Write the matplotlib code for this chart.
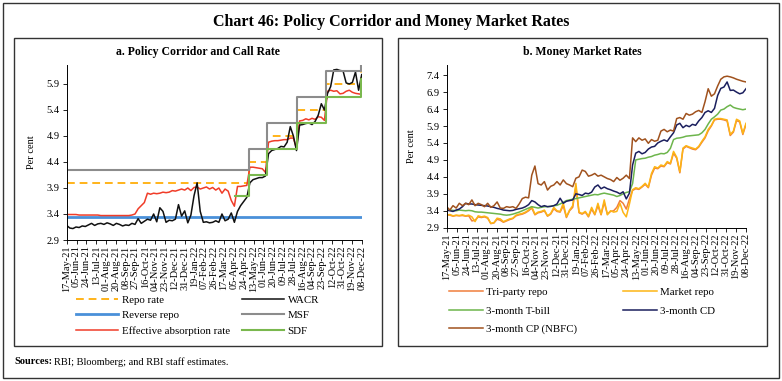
import numpy as np
import pandas as pd
import matplotlib
matplotlib.use('Agg')
import matplotlib.pyplot as plt
import matplotlib.dates as mdates
from matplotlib.patches import Rectangle

plt.rcParams['font.family'] = ['Liberation Serif', 'DejaVu Serif']

# ---------------- data ----------------
start, end = '2021-05-17', '2022-12-08'
# readings taken every 6 days from 17-May-21 to 08-Dec-22
obs_dates = pd.date_range(start, periods=96, freq='6D')
tick_dates = pd.date_range(start, end, freq='19D')

# policy corridor (change dates and levels)
repo_dates = ['2021-05-17', '2022-05-04', '2022-06-08', '2022-08-05', '2022-09-30', '2022-12-07', '2022-12-08']
repo_rate = [4.00, 4.40, 4.90, 5.40, 5.90, 6.25, 6.25]
msf_rate = [4.25, 4.65, 5.15, 5.65, 6.15, 6.50, 6.50]
sdf_dates = ['2022-04-08', '2022-05-04', '2022-06-08', '2022-08-05', '2022-09-30', '2022-12-07', '2022-12-08']
sdf_rate = [3.75, 4.15, 4.65, 5.15, 5.65, 6.00, 6.00]
rev_repo_dates = [start, end]
rev_repo_rate = [3.35, 3.35]

wacr = [3.18, 3.13, 3.12, 3.15, 3.14, 3.17, 3.16, 3.19, 3.22, 3.18, 3.21, 3.22, 3.20, 3.23, 3.21, 3.18,
        3.22, 3.20, 3.17, 3.19, 3.18, 3.22, 3.20, 3.31, 3.22, 3.26, 3.30, 3.28, 3.40, 3.25, 3.52, 3.45,
        3.24, 3.28, 3.27, 3.30, 3.58, 3.36, 3.46, 3.23, 3.38, 3.75, 4.00, 3.45, 3.24, 3.25, 3.23, 3.24,
        3.27, 3.24, 3.40, 3.27, 3.30, 3.42, 3.24, 3.45, 3.56, 3.64, 3.72, 4.00, 4.06, 4.08, 4.10, 4.10,
        4.13, 4.56, 4.62, 4.64, 4.66, 4.70, 4.69, 4.78, 5.08, 4.90, 4.62, 5.11, 5.12, 5.14, 5.15, 5.12,
        5.18, 5.30, 5.52, 5.40, 5.72, 5.85, 6.17, 6.18, 6.16, 6.15, 5.92, 5.90, 5.93, 6.13, 5.78, 6.08]
eff_absorption = [3.39, 3.39, 3.39, 3.39, 3.38, 3.38, 3.38, 3.38, 3.38, 3.38, 3.38, 3.37, 3.37, 3.37, 3.37, 3.37,
                  3.37, 3.37, 3.37, 3.37, 3.37, 3.38, 3.40, 3.50, 3.56, 3.62, 3.80, 3.78, 3.80, 3.79, 3.80, 3.82,
                  3.81, 3.82, 3.85, 3.84, 3.86, 3.88, 3.86, 3.90, 3.85, 3.91, 3.92, 3.88, 3.90, 3.92, 3.88, 3.91,
                  3.86, 3.90, 3.80, 3.88, 3.84, 3.66, 3.55, 3.93, 3.93, 3.94, 3.95, 4.30, 4.30, 4.29, 4.28, 4.27,
                  4.20, 4.78, 4.80, 4.81, 4.81, 4.82, 4.83, 4.83, 4.86, 4.86, 4.66, 5.19, 5.20, 5.23, 5.21, 5.24,
                  5.22, 5.27, 5.26, 5.20, 5.76, 5.78, 5.76, 5.77, 5.71, 5.72, 5.76, 5.78, 5.74, 5.72, 5.71, 5.70]

tri_party = [3.28, 3.27, 3.24, 3.26, 3.25, 3.26, 3.24, 3.25, 3.10, 3.12, 3.22, 3.20, 3.22, 3.18, 3.02, 3.04,
             3.15, 3.12, 3.06, 3.10, 3.14, 3.17, 3.25, 3.28, 3.30, 3.34, 3.40, 3.48, 3.28, 3.34, 3.36, 3.40,
             3.24, 3.30, 3.46, 3.38, 3.36, 3.55, 3.20, 3.40, 3.50, 4.10, 3.34, 3.30, 3.36, 3.22, 3.45, 3.28,
             3.55, 3.28, 3.65, 3.30, 3.38, 3.40, 3.50, 3.70, 3.62, 3.45, 3.75, 4.00, 4.05, 4.03, 4.10, 4.18,
             4.08, 4.45, 4.66, 4.64, 4.72, 4.70, 4.82, 4.78, 5.10, 4.95, 4.52, 5.22, 5.30, 5.26, 5.22, 5.20,
             5.28, 5.42, 5.55, 5.76, 5.90, 6.08, 6.10, 6.10, 6.08, 6.05, 5.62, 5.72, 6.06, 6.02, 5.65, 5.95]
market_repo = [3.27, 3.29, 3.25, 3.27, 3.26, 3.28, 3.25, 3.27, 3.22, 3.08, 3.25, 3.22, 3.24, 3.20, 3.03, 3.05,
               3.18, 3.16, 3.08, 3.12, 3.16, 3.18, 3.27, 3.30, 3.32, 3.36, 3.42, 3.52, 3.30, 3.36, 3.38, 3.42,
               3.25, 3.32, 3.50, 3.40, 3.38, 3.62, 3.22, 3.42, 3.55, 4.21, 3.36, 3.32, 3.38, 3.24, 3.50, 3.30,
               3.62, 3.30, 3.72, 3.28, 3.40, 3.36, 3.38, 3.62, 3.35, 3.22, 3.60, 4.02, 4.08, 4.05, 4.12, 4.21,
               4.10, 4.50, 4.70, 4.66, 4.75, 4.72, 4.85, 4.80, 5.15, 4.98, 4.55, 5.25, 5.32, 5.28, 5.25, 5.22,
               5.30, 5.45, 5.58, 5.80, 5.92, 6.10, 6.12, 6.12, 6.10, 6.08, 5.65, 5.75, 6.10, 6.05, 5.68, 5.98]
tbill_3m = [3.42, 3.42, 3.41, 3.40, 3.42, 3.41, 3.40, 3.41, 3.40, 3.37, 3.36, 3.36, 3.35, 3.34, 3.33, 3.32,
            3.31, 3.30, 3.28, 3.27, 3.28, 3.30, 3.33, 3.36, 3.40, 3.44, 3.48, 3.52, 3.50, 3.48, 3.50, 3.52,
            3.52, 3.53, 3.55, 3.56, 3.60, 3.65, 3.70, 3.72, 3.74, 3.76, 3.78, 3.80, 3.82, 3.84, 3.86, 3.88,
            3.87, 3.90, 3.92, 3.90, 3.88, 3.86, 3.82, 3.85, 3.90, 3.94, 3.96, 4.20, 4.90, 4.92, 4.94, 4.95,
            4.98, 5.00, 5.04, 5.06, 5.09, 5.08, 5.12, 5.24, 5.50, 5.54, 5.55, 5.57, 5.60, 5.61, 5.62, 5.63,
            5.64, 5.70, 5.80, 5.96, 6.10, 6.17, 6.25, 6.37, 6.40, 6.47, 6.52, 6.45, 6.42, 6.40, 6.38, 6.40]
cd_3m = [3.42, 3.40, 3.38, 3.42, 3.45, 3.52, 3.62, 3.60, 3.60, 3.58, 3.57, 3.56, 3.55, 3.54, 3.52, 3.50,
         3.47, 3.45, 3.42, 3.41, 3.40, 3.41, 3.44, 3.46, 3.48, 3.52, 3.58, 3.70, 3.66, 3.58, 3.52, 3.55,
         3.52, 3.53, 3.55, 3.60, 3.77, 3.62, 3.68, 3.70, 3.72, 3.90, 3.88, 3.85, 3.92, 3.90, 3.95, 4.10,
         4.16, 4.05, 4.10, 4.05, 4.02, 3.98, 3.95, 3.90, 3.96, 3.75, 3.92, 4.75, 5.10, 5.15, 5.08, 5.12,
         5.22, 5.28, 5.30, 5.40, 5.45, 5.49, 5.45, 5.58, 5.70, 5.93, 5.98, 5.85, 5.92, 5.88, 5.95, 5.92,
         6.05, 6.15, 6.30, 6.35, 6.30, 6.42, 6.80, 7.01, 7.05, 7.20, 6.95, 6.96, 6.90, 6.85, 6.88, 7.00]
cp_nbfc_3m = [3.52, 3.42, 3.55, 3.48, 3.62, 3.55, 3.62, 3.58, 3.72, 3.55, 3.62, 3.58, 3.52, 3.62, 3.50, 3.55,
              3.66, 3.48, 3.47, 3.52, 3.50, 3.52, 3.47, 3.60, 3.76, 3.80, 3.78, 4.45, 4.72, 4.20, 4.16, 4.26,
              4.01, 4.12, 4.16, 4.26, 4.16, 4.31, 4.20, 4.16, 4.11, 4.36, 4.40, 4.60, 4.56, 4.42, 4.45, 4.50,
              4.42, 4.45, 4.40, 4.35, 4.32, 4.26, 4.38, 4.30, 4.36, 4.45, 4.35, 5.55, 5.44, 5.55, 5.48, 5.52,
              5.39, 5.50, 5.45, 5.48, 5.75, 5.80, 5.73, 5.78, 5.75, 6.12, 6.15, 6.10, 6.27, 6.22, 6.25, 6.32,
              6.36, 6.30, 6.62, 7.00, 6.78, 6.85, 7.08, 7.28, 7.35, 7.37, 7.35, 7.32, 7.28, 7.25, 7.22, 7.20]

# ---------------- figure ----------------
W, H = 782, 381
fig = plt.figure(figsize=(W / 100, H / 100), dpi=100)


def fx(px):
    return px / W


def fy(py):
    return 1 - py / H


# frames
fig.patches.append(Rectangle((fx(3), fy(378)), fx(776), 375 / H, transform=fig.transFigure,
                             fill=False, lw=1.0, ec='#333333'))
for x0, x1 in [(14, 382), (398, 767)]:
    fig.patches.append(Rectangle((fx(x0), fy(346)), fx(x1 - x0), 308 / H, transform=fig.transFigure,
                                 fill=False, lw=1.0, ec='#333333'))

fig.text(0.5, fy(22), 'Chart 46: Policy Corridor and Money Market Rates', ha='center', va='center',
         fontsize=11.5, fontweight='bold')
fig.text(fx(198), fy(52), 'a. Policy Corridor and Call Rate', ha='center', va='center',
         fontsize=8.5, fontweight='bold')
fig.text(fx(582), fy(52), 'b. Money Market Rates', ha='center', va='center',
         fontsize=8.5, fontweight='bold')

ax1 = fig.add_axes([fx(66.7), fy(240), fx(295), 175 / H])
ax2 = fig.add_axes([fx(446.7), fy(227.7), fx(299.3), 162.7 / H])

x0d, x1d = pd.Timestamp(start), pd.Timestamp(end)

# panel a
ax1.plot(pd.to_datetime(repo_dates), repo_rate, color='#FFB31A', lw=1.4, ls=(0, (4, 2.5)),
         drawstyle='steps-post', label='Repo rate')
ax1.plot(pd.to_datetime(rev_repo_dates), rev_repo_rate, color='#4A90D9', lw=2.0, label='Reverse repo')
ax1.plot(obs_dates, eff_absorption, color='#F03C28', lw=1.1, label='Effective absorption rate')
ax1.plot(obs_dates, wacr, color='#111111', lw=1.1, label='WACR')
ax1.plot(pd.to_datetime(repo_dates), msf_rate, color='#8C8C8C', lw=1.5, drawstyle='steps-post', label='MSF')
ax1.plot(pd.to_datetime(sdf_dates), sdf_rate, color='#7AB84E', lw=1.5, drawstyle='steps-post', label='SDF')
ax1.set_ylim(2.9, 6.265)
ax1.set_yticks(np.arange(2.9, 6.0, 0.5))

# panel b
ax2.plot(obs_dates, tri_party, color='#F07F3C', lw=1.1, label='Tri-party repo')
ax2.plot(obs_dates, market_repo, color='#FDB515', lw=1.1, label='Market repo')
ax2.plot(obs_dates, tbill_3m, color='#6DB54C', lw=1.1, label='3-month T-bill')
ax2.plot(obs_dates, cd_3m, color='#1B1F5E', lw=1.1, label='3-month CD')
ax2.plot(obs_dates, cp_nbfc_3m, color='#A0521E', lw=1.1, label='3-month CP (NBFC)')
ax2.set_ylim(2.9, 7.70)
ax2.set_yticks(np.arange(2.9, 7.5, 0.5))

for ax in (ax1, ax2):
    ax.set_xlim(x0d, x1d)
    ax.set_xticks(tick_dates)
    ax.xaxis.set_major_formatter(mdates.DateFormatter('%d-%b-%y'))
    ax.yaxis.set_major_formatter(plt.FuncFormatter(lambda v, p: f'{v:.1f}'))
    ax.tick_params(axis='x', labelrotation=90, labelsize=7.5, length=3, width=0.6, pad=1)
    ax.tick_params(axis='y', labelsize=7.5, length=3, width=0.6, pad=2)
    for s in ('top', 'right'):
        ax.spines[s].set_visible(False)
    for s in ('left', 'bottom'):
        ax.spines[s].set_linewidth(0.7)
    ax.set_facecolor('none')

fig.text(fx(32), fy(152), 'Per cent', rotation=90, ha='center', va='center', fontsize=7.5)
fig.text(fx(412), fy(146), 'Per cent', rotation=90, ha='center', va='center', fontsize=7.5)

# legends: two separate columns per panel
h1, l1 = ax1.get_legend_handles_labels()
h2, l2 = ax2.get_legend_handles_labels()
leg_kw = dict(loc='upper left', frameon=False, borderpad=0, borderaxespad=0, fontsize=7.8,
              handletextpad=0.3)
fig.legend(h1[:3], l1[:3], bbox_to_anchor=(fx(76), fy(295)), handlelength=3.9, labelspacing=0.55, **leg_kw)
fig.legend(h1[3:], l1[3:], bbox_to_anchor=(fx(242), fy(295)), handlelength=3.9, labelspacing=0.55, **leg_kw)
fig.legend([h2[0], h2[2], h2[4]], [l2[0], l2[2], l2[4]], bbox_to_anchor=(fx(449), fy(287.5)),
           handlelength=3.1, labelspacing=0.82, **leg_kw)
fig.legend([h2[1], h2[3]], [l2[1], l2[3]], bbox_to_anchor=(fx(623), fy(287.5)),
           handlelength=3.1, labelspacing=0.82, **leg_kw)

# source note
t = fig.text(fx(14), fy(362), 'Sources:', ha='left', va='center', fontsize=7.5, fontweight='bold')
fig.canvas.draw()
bb = t.get_window_extent()
fig.text(bb.x1 / W + fx(2), fy(362), 'RBI; Bloomberg; and RBI staff estimates.', ha='left', va='center',
         fontsize=7.5)

fig.savefig('out.png', dpi=100)
